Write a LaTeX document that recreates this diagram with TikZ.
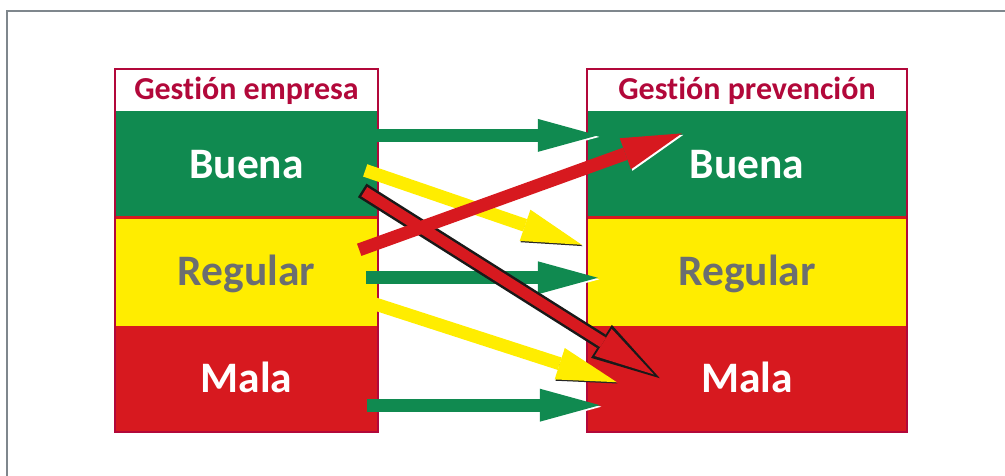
\documentclass[tikz,border=0pt]{standalone}
\usepackage{fontspec}
\setmainfont{Carlito}[Ligatures=NoCommon]
\usetikzlibrary{positioning,arrows.meta}
\definecolor{okgreen}{RGB}{16,138,80}
\definecolor{midyellow}{RGB}{255,237,0}
\definecolor{badred}{RGB}{215,25,31}
\definecolor{crimson}{RGB}{178,8,58}
\definecolor{textgrey}{RGB}{107,110,113}
\definecolor{framegrey}{RGB}{127,135,141}
\tikzset{
  head/.style={fill=white, text=crimson, font=\bfseries\fontsize{32}{32}\selectfont,
    minimum height=42pt, inner sep=0pt, text height=20pt, text depth=0pt},
  cell/.style={font=\bfseries\fontsize{43.5}{43.5}\selectfont, text=white, inner sep=0pt,
    text height=27.5pt, text depth=0pt},
  lcol/.style={minimum width=263pt},
  rcol/.style={minimum width=320pt},
  fat/.style={line width=13pt, -{Triangle[length=60pt,width=33pt,line width=0pt]}},
  whitecast/.style={preaction={draw=white, transform canvas={shift={(1.5pt,-1.5pt)}}}},
  darkcast/.style={preaction={draw=black!85, transform canvas={shift={(0.8pt,-1.3pt)}}}},
}
\begin{document}
\begin{tikzpicture}[x=1pt, y=1pt]
\useasboundingbox (0,0) rectangle (1005,476);
\draw[framegrey, line width=2.5pt] (7,0) |- (1005,465);

% empresa
\node[head, lcol] (lhead) at (246.5,386) {Gestión empresa};
\node[cell, lcol, fill=okgreen, minimum height=106pt, below=0pt of lhead] (lbuena) {Buena};
\node[cell, lcol, fill=midyellow, text=textgrey, minimum height=108pt, below=0pt of lbuena] (lregular) {Regular};
\node[cell, lcol, fill=badred, minimum height=106pt, below=0pt of lregular] (lmala) {Mala};
\draw[badred, line width=3pt] (lbuena.south west) -- (lbuena.south east);
\draw[crimson, line width=2pt] (lhead.north west) rectangle (lmala.south east);

% prevencion
\node[head, rcol] (rhead) at (747,386) {Gestión prevención};
\node[cell, rcol, fill=okgreen, minimum height=106pt, below=0pt of rhead] (rbuena) {Buena};
\node[cell, rcol, fill=midyellow, text=textgrey, minimum height=108pt, below=0pt of rbuena] (rregular) {Regular};
\node[cell, rcol, fill=badred, minimum height=106pt, below=0pt of rregular] (rmala) {Mala};
\draw[badred, line width=3pt] (rbuena.south west) -- (rbuena.south east);
\draw[crimson, line width=2pt] (rhead.north west) rectangle (rmala.south east);

% arrows
\draw[fat, okgreen, whitecast] ([shift={(-10,29)}]lbuena.east) -- ([shift={(11,29)}]rbuena.west);
\draw[fat, okgreen, whitecast] ([shift={(-12,-6)}]lregular.east) -- ([shift={(11,-6)}]rregular.west);
\draw[fat, okgreen, whitecast] ([shift={(-11,-26)}]lmala.east) -- ([shift={(13,-26)}]rmala.west);
\draw[fat, midyellow, darkcast] ([shift={(-13,-6)}]lbuena.east) -- ([shift={(-5,27)}]rregular.west);
\draw[fat, midyellow, darkcast] ([shift={(-13,-29)}]lregular.east) -- ([shift={(30,-3)}]rmala.west);
\coordinate (ostart) at ([shift={(-16,-26)}]lbuena.east);
\coordinate (oend) at ([shift={(73,1)}]rmala.west);
\draw[black!90, line width=16pt, -{Triangle[length=69pt,width=39pt,line width=0pt]}] (ostart) -- (oend);
\draw[badred, line width=11pt, shorten <=2.5pt, shorten >=7pt,
  -{Triangle[length=60pt,width=32pt,line width=0pt]}] (ostart) -- (oend);
\draw[fat, badred, whitecast] ([shift={(-19,22)}]lregular.east) -- ([shift={(95,31)}]rbuena.west);
\end{tikzpicture}
\end{document}
